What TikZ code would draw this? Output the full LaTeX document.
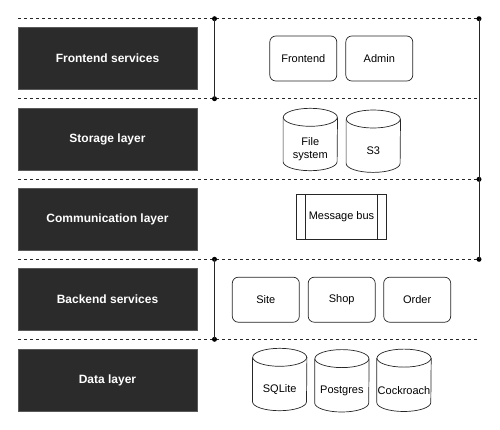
\documentclass[tikz,border=0pt]{standalone}
\usepackage{fontspec}
\setmainfont{Liberation Sans}
\begin{document}
\begin{tikzpicture}[x=1pt,y=-1pt,
  layer/.style={draw=black!65, fill=black!83, text=white, font=\fontsize{12}{14}\selectfont\bfseries,
    minimum width=179pt, minimum height=62pt, inner sep=0pt},
  svc/.style={draw=black!85, fill=white, rounded corners=6pt, line width=0.7pt,
    minimum width=67pt, minimum height=45pt, inner sep=0pt, font=\fontsize{11}{13}\selectfont},
  cylbody/.style={minimum width=54pt, minimum height=62pt, inner sep=0pt},
  cyltext/.style={font=\fontsize{11}{13}\selectfont, align=center},
  sep/.style={dashed, dash pattern=on 3pt off 3pt, line width=0.7pt, black!85},
  bar/.style={line width=0.8pt, black!85},
  dot/.style={circle, fill=black, inner sep=0pt, minimum size=5pt},
]
\useasboundingbox (0,0) rectangle (500,429);

% layer boxes
\node[layer] (lf) at (107.5,58.5) {Frontend services};
\node[layer] (ls) at (107.5,139) {Storage layer};
\node[layer] (lc) at (107.5,219) {Communication layer};
\node[layer] (lb) at (107.5,299.5) {Backend services};
\node[layer] (ld) at (107.5,380) {Data layer};

% separator coordinates
\foreach \n/\y in {1/18.7,2/98.7,3/179.3,4/259.3,5/339.3}{
  \coordinate (sl\n) at (18,\y);
  \coordinate (sm\n) at (214.5,\y);
  \coordinate (sr\n) at (479,\y);
}
\foreach \n in {1,...,5}{ \draw[sep] (sl\n) -- (sr\n); }

% brackets
\node[dot] (d1) at (sm1) {};
\node[dot] (d2) at (sm2) {};
\node[dot] (d4) at (sm4) {};
\node[dot] (d5) at (sm5) {};
\node[dot] (r1) at (sr1) {};
\node[dot] (r3) at (sr3) {};
\node[dot] (r4) at (sr4) {};
\draw[bar] (d1.center) -- (d2.center);
\draw[bar] (d4.center) -- (d5.center);
\draw[bar] (r1.center) -- (r3.center);
\draw[bar] (r3.center) -- (r4.center);

% frontend services
\node[svc] (fe) at (303.3,58.5) {Frontend};
\node[svc] (ad) at (379.3,58.5) {Admin};

% cylinder drawing
\newcommand\mycyl[1]{%
  \draw[line width=0.7pt, black!85, fill=white] ([yshift=-9pt]#1.north west) -- ([yshift=9pt]#1.south west)
    arc[start angle=180, end angle=360, x radius=27pt, y radius=9pt]
    -- ([yshift=-9pt]#1.north east);
  \draw[line width=0.7pt, black!85, fill=white] ([yshift=-9pt]#1.north) ellipse [x radius=27pt, y radius=9pt];
}

% storage
\node[cylbody] (fs) at (310.3,139.5) {};
\node[cylbody] (s3) at (373.3,141.2) {};
\mycyl{fs}
\mycyl{s3}
\node[cyltext] (fst) at ([yshift=-10pt]fs.center) {File\\system};
\node[cyltext] (s3t) at ([yshift=-10pt]s3.center) {S3};

% communication
\node[draw=black!85, line width=0.7pt, fill=white, minimum width=89.6pt, minimum height=45pt,
  inner sep=0pt, font=\fontsize{11}{13}\selectfont] (mb) at (341.5,216.8) {Message bus};
\draw[line width=0.7pt, black!85] ([xshift=9pt]mb.north west) -- ([xshift=9pt]mb.south west);
\draw[line width=0.7pt, black!85] ([xshift=-9pt]mb.north east) -- ([xshift=-9pt]mb.south east);

% backend
\node[svc] (si) at (265.8,299.7) {Site};
\node[svc] (sh) at (341.7,299.7) {Shop};
\node[svc] (or) at (417.2,299.7) {Order};

% data
\node[cylbody] (sq) at (279.7,379.5) {};
\node[cylbody] (pg) at (341.9,380.8) {};
\node[cylbody] (cr) at (404,380.3) {};
\mycyl{sq}
\mycyl{pg}
\mycyl{cr}
\node[cyltext] (sqt) at ([yshift=-10pt]sq.center) {SQLite};
\node[cyltext] (pgt) at ([yshift=-10pt]pg.center) {Postgres};
\node[cyltext, inner sep=0pt] (crt) at ([yshift=-10pt]cr.center) {Cockroach};
\end{tikzpicture}
\end{document}
